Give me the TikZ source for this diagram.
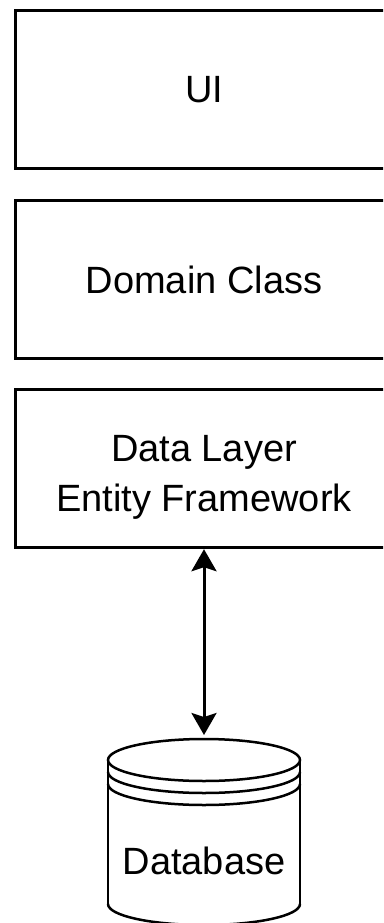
\documentclass[tikz,border=0pt]{standalone}
\usepackage{fontspec}
\setmainfont{Liberation Sans}
\usetikzlibrary{arrows.meta}

\tikzset{
	layer/.style={draw,line width=3pt,minimum width=378pt,minimum height=158pt,inner sep=0pt},
	caption/.style={inner sep=0pt,align=center,text depth=0pt},
	dbline/.style={line width=2.5pt},
}

\begin{document}
\begin{tikzpicture}[x=1pt,y=-1pt,font=\fontsize{38}{50}\selectfont]
		\useasboundingbox (0,0) rectangle (383,923);
		\clip (0,0) rectangle (383,923);
		
		% the three layers
		\node[layer] (ui) at (204,89.4) {};
		\node[caption] (uitext) at (204,89.4) {UI};
		\node[layer] (dom) at (204,279.3) {};
		\node[caption] (domtext) at (204,279.3) {Domain Class};
		\node[layer] (dl) at (204,468.7) {};
		\node[caption] (dltext) at (204,473.3) {Data Layer\\Entity Framework};
		
		% the database drum
		\draw[dbline] (204,760) ellipse [x radius=96pt,y radius=21pt];
		\draw[dbline] (108,772) arc [start angle=180,end angle=360,x radius=96pt,y radius=21pt];
		\draw[dbline] (108,784) arc [start angle=180,end angle=360,x radius=96pt,y radius=21pt];
		\draw[dbline] (108,760)--(108,904);
		\draw[dbline] (300,760)--(300,904);
		\draw[dbline] (108,904) arc [start angle=180,end angle=360,x radius=96pt,y radius=21pt];
		\node[caption] (db) at (204,861) {Database};
		\coordinate (dbtop) at (204,735);
		
		\draw[line width=3pt,{Stealth[length=22pt,width=25pt,inset=4pt]}-{Stealth[length=22pt,width=25pt,inset=4pt]}] (dl.south)--(dbtop);
\end{tikzpicture}
\end{document}
